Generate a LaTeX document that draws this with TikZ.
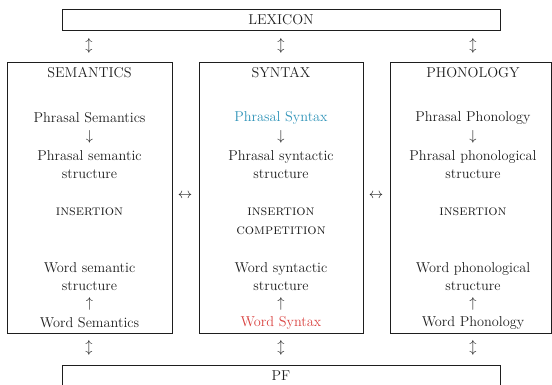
\documentclass[tikz,border=0pt]{standalone}
\usepackage{xcolor}
\definecolor{synblue}{RGB}{46,147,184}
\definecolor{synred}{RGB}{217,65,63}
\definecolor{ink}{RGB}{30,30,30}
\begin{document}
\begin{tikzpicture}[x=1pt,y=-1pt,
  frame/.style={draw=ink,line width=0.9pt},
  txt/.style={text=ink,font=\fontsize{14.3}{18}\selectfont,inner sep=0pt,align=center},
  sc/.style={text=ink,font=\fontsize{14.6}{18}\selectfont\scshape,inner sep=0pt},
  glyph/.style={text=ink,font=\fontsize{15.5}{18}\selectfont,inner sep=0pt}]
\useasboundingbox (0,0) rectangle (552,385);
\begin{scope}
\clip (0,0) rectangle (552,385);
% top and bottom boxes
\draw[frame] (62,9) rectangle (500,30);
\node[txt] (lex) at (281,19.5) {LEXICON};
\draw[frame] (62,365) rectangle (500,400);
\node[txt] (pf) at (281,376) {PF};
% three module boxes
\draw[frame] (7,62) rectangle (172,333);
\draw[frame] (199,62) rectangle (363,333);
\draw[frame] (390,62) rectangle (551.5,333);
\end{scope}
% vertical double arrows
\foreach \x/\n in {89/a,281/b,473/c}{
  \node[glyph] (top\n) at (\x,46) {$\updownarrow$};
  \node[glyph] (bot\n) at (\x,348) {$\updownarrow$};
}
\node[glyph] (h1) at (185,196) {$\leftrightarrow$};
\node[glyph] (h2) at (376,196) {$\leftrightarrow$};
% SEMANTICS column
\node[txt] (semt) at (89.5,73) {SEMANTICS};
\node[txt] (sem1) at (89.5,118) {Phrasal Semantics};
\node[glyph] (sem2) at (89.5,137) {$\downarrow$};
\node[txt] (sem3) at (89.5,165) {Phrasal semantic\\structure};
\node[sc] (sem4) at (89.5,212) {insertion};
\node[txt] (sem5) at (89.5,276.5) {Word semantic\\structure};
\node[glyph] (sem6) at (89.5,304) {$\uparrow$};
\node[txt] (sem7) at (89.5,323) {Word Semantics};
% SYNTAX column
\node[txt] (synt) at (281,73) {SYNTAX};
\node[txt,text=synblue] (syn1) at (281,118) {Phrasal Syntax};
\node[glyph] (syn2) at (281,137) {$\downarrow$};
\node[txt] (syn3) at (281,165) {Phrasal syntactic\\structure};
\node[sc] (syn4) at (281,212) {insertion};
\node[sc] (syn4b) at (281,231) {competition};
\node[txt] (syn5) at (281,276.5) {Word syntactic\\structure};
\node[glyph] (syn6) at (281,304) {$\uparrow$};
\node[txt,text=synred] (syn7) at (281,323) {Word Syntax};
% PHONOLOGY column
\node[txt] (phot) at (473,73) {PHONOLOGY};
\node[txt] (pho1) at (473,118) {Phrasal Phonology};
\node[glyph] (pho2) at (473,137) {$\downarrow$};
\node[txt] (pho3) at (473,165) {Phrasal phonological\\structure};
\node[sc] (pho4) at (473,212) {insertion};
\node[txt] (pho5) at (473,276.5) {Word phonological\\structure};
\node[glyph] (pho6) at (473,304) {$\uparrow$};
\node[txt] (pho7) at (473,323) {Word Phonology};
\end{tikzpicture}
\end{document}
